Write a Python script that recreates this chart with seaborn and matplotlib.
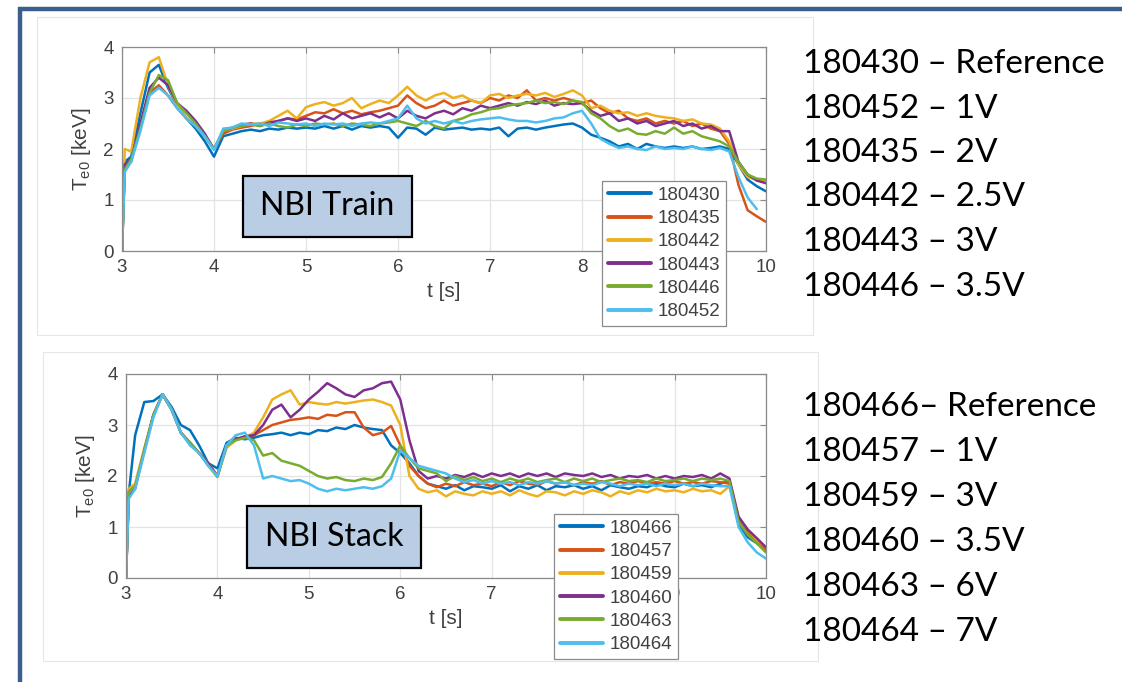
import numpy as np
import pandas as pd
import matplotlib
matplotlib.use("Agg")
import matplotlib.pyplot as plt
import seaborn as sns
from matplotlib.patches import Rectangle
from matplotlib.lines import Line2D

# ---------------- data ----------------
time_s = [3.0, 3.03, 3.1, 3.2, 3.3, 3.4, 3.5, 3.6, 3.7, 3.8, 3.9,
          4.0, 4.1, 4.2, 4.3, 4.4, 4.5, 4.6, 4.7, 4.8, 4.9,
          5.0, 5.1, 5.2, 5.3, 5.4, 5.5, 5.6, 5.7, 5.8, 5.9,
          6.0, 6.1, 6.2, 6.3, 6.4, 6.5, 6.6, 6.7, 6.8, 6.9,
          7.0, 7.1, 7.2, 7.3, 7.4, 7.5, 7.6, 7.7, 7.8, 7.9,
          8.0, 8.1, 8.2, 8.3, 8.4, 8.5, 8.6, 8.7, 8.8, 8.9,
          9.0, 9.1, 9.2, 9.3, 9.4, 9.5, 9.6, 9.7, 9.8, 9.9,
          10.0]

train_shots = ["180430", "180435", "180442", "180443", "180446", "180452"]
train_180430 = [0.0, 1.75, 1.85, 2.7, 3.5, 3.65, 3.2, 2.85, 2.6, 2.4, 2.15,
                1.85, 2.25, 2.3, 2.35, 2.38, 2.35, 2.4, 2.38, 2.42, 2.4,
                2.42, 2.4, 2.45, 2.4, 2.45, 2.38, 2.45, 2.42, 2.45, 2.42,
                2.22, 2.42, 2.4, 2.28, 2.42, 2.38, 2.4, 2.42, 2.38, 2.4,
                2.38, 2.42, 2.25, 2.4, 2.42, 2.38, 2.42, 2.45, 2.48, 2.5,
                2.42, 2.28, 2.22, 2.15, 2.05, 2.1, 2.0, 2.1, 2.05, 2.02,
                2.05, 2.02, 2.05, 2.0, 2.02, 2.05, 2.0, 1.7, 1.4, 1.27,
                1.17]
train_180435 = [0.0, 1.65, 1.75, 2.45, 3.1, 3.25, 3.05, 2.8, 2.6, 2.45, 2.25,
                2.0, 2.3, 2.38, 2.42, 2.45, 2.5, 2.48, 2.55, 2.6, 2.58,
                2.65, 2.72, 2.7, 2.78, 2.7, 2.75, 2.68, 2.72, 2.75, 2.8,
                2.85, 3.05, 2.9, 2.8, 2.85, 2.95, 2.85, 2.9, 2.95, 2.9,
                3.0, 2.95, 3.05, 3.0, 3.15, 2.95, 3.0, 2.95, 3.0, 2.95,
                2.9, 2.95, 2.8, 2.7, 2.75, 2.6, 2.55, 2.6, 2.5, 2.55,
                2.5, 2.55, 2.45, 2.5, 2.4, 2.35, 2.1, 1.3, 0.8, 0.68,
                0.57]
train_180442 = [0.0, 2.0, 1.95, 3.0, 3.7, 3.8, 3.25, 2.85, 2.6, 2.45, 2.25,
                2.0, 2.35, 2.4, 2.45, 2.5, 2.5, 2.55, 2.65, 2.75, 2.6,
                2.82, 2.88, 2.92, 2.85, 2.9, 3.0, 2.8, 2.88, 2.95, 2.9,
                3.05, 3.22, 3.05, 2.95, 3.05, 3.1, 3.0, 3.05, 2.95, 2.9,
                3.05, 3.08, 3.0, 3.05, 3.08, 3.05, 3.1, 3.02, 3.08, 3.15,
                3.05, 2.8, 2.85, 2.75, 2.7, 2.72, 2.65, 2.7, 2.65, 2.62,
                2.6, 2.55, 2.58, 2.5, 2.48, 2.4, 2.15, 1.7, 1.45, 1.4,
                1.38]
train_180443 = [0.0, 1.7, 1.8, 2.5, 3.2, 3.4, 3.25, 2.9, 2.75, 2.55, 2.3,
                2.0, 2.35, 2.42, 2.48, 2.5, 2.45, 2.52, 2.55, 2.6, 2.55,
                2.6, 2.55, 2.65, 2.58, 2.7, 2.6, 2.65, 2.7, 2.62, 2.7,
                2.6, 2.75, 2.65, 2.6, 2.7, 2.75, 2.68, 2.8, 2.75, 2.85,
                2.8, 2.85, 2.9, 2.85, 2.92, 2.88, 2.95, 2.85, 2.9, 2.88,
                2.9, 2.75, 2.65, 2.7, 2.55, 2.6, 2.5, 2.55, 2.45, 2.5,
                2.55, 2.45, 2.5, 2.4, 2.45, 2.35, 2.35, 1.75, 1.5, 1.38,
                1.33]
train_180446 = [0.0, 1.6, 1.8, 2.4, 3.1, 3.45, 3.35, 2.9, 2.7, 2.5, 2.25,
                2.0, 2.35, 2.42, 2.45, 2.48, 2.45, 2.5, 2.45, 2.42, 2.48,
                2.45, 2.5, 2.48, 2.5, 2.45, 2.5, 2.48, 2.45, 2.5, 2.52,
                2.55, 2.5, 2.45, 2.55, 2.45, 2.4, 2.55, 2.6, 2.68, 2.72,
                2.78, 2.8, 2.85, 2.88, 2.9, 2.95, 2.9, 2.92, 2.88, 2.95,
                2.92, 2.7, 2.6, 2.45, 2.35, 2.4, 2.3, 2.28, 2.35, 2.3,
                2.42, 2.3, 2.35, 2.25, 2.2, 2.15, 2.05, 1.75, 1.5, 1.42,
                1.4]
train_180452 = [0.0, 1.55, 1.75, 2.35, 3.05, 3.2, 3.05, 2.8, 2.6, 2.45, 2.25,
                1.98, 2.4, 2.42, 2.5, 2.48, 2.5, 2.45, 2.52, 2.5, 2.48,
                2.5, 2.45, 2.5, 2.48, 2.5, 2.45, 2.5, 2.52, 2.5, 2.55,
                2.6, 2.85, 2.6, 2.5, 2.55, 2.5, 2.55, 2.5, 2.55, 2.58,
                2.6, 2.62, 2.58, 2.55, 2.55, 2.52, 2.55, 2.6, 2.62, 2.7,
                2.75, 2.5, 2.2, 2.1, 2.02, 2.05, 2.0, 1.98, 2.05, 2.0,
                2.02, 2.0, 2.05, 2.0, 1.98, 2.02, 1.95, 1.45, 1.05, 0.82,
                np.nan]

stack_shots = ["180466", "180457", "180459", "180460", "180463", "180464"]
stack_180466 = [0.0, 1.65, 2.8, 3.45, 3.47, 3.6, 3.35, 3.0, 2.9, 2.6, 2.25,
                2.15, 2.65, 2.75, 2.72, 2.75, 2.8, 2.82, 2.85, 2.8, 2.85,
                2.82, 2.9, 2.88, 2.95, 2.92, 3.0, 2.95, 2.92, 2.9, 2.6,
                2.45, 2.25, 2.0, 1.85, 1.8, 1.75, 1.82, 1.72, 1.8, 1.78,
                1.75, 1.82, 1.7, 1.8, 1.75, 1.82, 1.72, 1.8, 1.78, 1.82,
                1.75, 1.8, 1.72, 1.82, 1.78, 1.75, 1.8, 1.78, 1.85, 1.8,
                1.78, 1.85, 1.8, 1.82, 1.78, 1.85, 1.9, 1.05, 0.8, 0.68,
                0.55]
stack_180457 = [0.0, 1.7, 1.8, 2.5, 3.2, 3.6, 3.3, 2.85, 2.65, 2.45, 2.25,
                2.0, 2.6, 2.72, 2.75, 2.8, 2.9, 3.0, 3.05, 3.1, 3.12,
                3.15, 3.12, 3.2, 3.18, 3.25, 3.25, 2.95, 2.8, 2.85, 2.98,
                2.6, 2.2, 2.0, 1.85, 1.78, 1.85, 1.8, 1.88, 1.82, 1.85,
                1.8, 1.88, 1.82, 1.9, 1.85, 1.82, 1.9, 1.85, 1.88, 1.82,
                1.88, 1.85, 1.9, 1.82, 1.88, 1.85, 1.9, 1.85, 1.88, 1.85,
                1.9, 1.85, 1.88, 1.85, 1.9, 1.88, 1.85, 1.15, 0.9, 0.72,
                0.55]
stack_180459 = [0.0, 1.75, 1.85, 2.55, 3.2, 3.6, 3.3, 2.85, 2.65, 2.45, 2.25,
                2.0, 2.55, 2.7, 2.75, 2.85, 3.15, 3.5, 3.6, 3.68, 3.4,
                3.45, 3.42, 3.4, 3.45, 3.42, 3.45, 3.48, 3.5, 3.45, 3.38,
                3.0, 2.0, 1.75, 1.68, 1.72, 1.6, 1.7, 1.65, 1.62, 1.7,
                1.65, 1.7, 1.62, 1.72, 1.65, 1.6, 1.7, 1.68, 1.62, 1.7,
                1.65, 1.72, 1.68, 1.6, 1.7, 1.65, 1.72, 1.68, 1.75, 1.7,
                1.72, 1.68, 1.75, 1.7, 1.72, 1.65, 1.8, 1.2, 0.95, 0.75,
                0.6]
stack_180460 = [0.0, 1.6, 1.75, 2.5, 3.2, 3.6, 3.3, 2.85, 2.65, 2.45, 2.25,
                2.0, 2.6, 2.72, 2.78, 2.8, 3.0, 3.3, 3.4, 3.15, 3.3,
                3.5, 3.65, 3.82, 3.72, 3.6, 3.55, 3.68, 3.72, 3.82, 3.85,
                3.5, 2.7, 2.1, 1.95, 2.0, 1.95, 2.02, 1.98, 2.05, 1.98,
                2.05, 2.0, 2.05, 1.98, 2.05, 2.0, 2.05, 1.98, 2.05, 2.02,
                2.0, 2.05, 1.98, 2.02, 1.95, 2.0, 1.98, 2.02, 1.95, 2.0,
                1.95, 2.0, 1.98, 2.02, 1.95, 2.05, 1.95, 1.2, 0.95, 0.78,
                0.6]
stack_180463 = [0.0, 1.7, 1.8, 2.5, 3.2, 3.6, 3.3, 2.85, 2.65, 2.45, 2.2,
                1.98, 2.6, 2.7, 2.75, 2.7, 2.4, 2.45, 2.3, 2.25, 2.2,
                2.1, 2.0, 1.95, 1.98, 1.92, 1.9, 1.95, 1.92, 1.98, 2.25,
                2.6, 2.35, 2.15, 2.1, 2.05, 1.9, 2.0, 1.92, 1.98, 1.9,
                1.95, 1.88, 1.95, 1.9, 1.95, 1.88, 1.92, 1.95, 1.88, 1.95,
                1.9, 1.95, 1.88, 1.92, 1.95, 1.9, 1.92, 1.88, 1.95, 1.9,
                1.92, 1.95, 1.9, 1.95, 1.92, 1.95, 1.9, 1.1, 0.85, 0.68,
                0.5]
stack_180464 = [0.0, 1.55, 1.75, 2.45, 3.15, 3.6, 3.3, 2.85, 2.6, 2.45, 2.2,
                2.0, 2.6, 2.8, 2.85, 2.6, 1.95, 2.0, 1.95, 1.9, 1.92,
                1.85, 1.75, 1.7, 1.75, 1.72, 1.75, 1.78, 1.75, 1.8, 1.95,
                2.5, 2.35, 2.2, 2.15, 2.1, 2.05, 1.95, 1.88, 1.92, 1.85,
                1.9, 1.85, 1.88, 1.82, 1.88, 1.85, 1.9, 1.85, 1.88, 1.82,
                1.85, 1.82, 1.88, 1.85, 1.8, 1.85, 1.82, 1.85, 1.8, 1.85,
                1.82, 1.85, 1.8, 1.85, 1.82, 1.8, 1.8, 1.0, 0.7, 0.5,
                0.38]

x_ticks = [3, 4, 5, 6, 7, 8, 9, 10]
y_ticks = [0, 1, 2, 3, 4]

train_notes = ["180430 \u2013 Reference", "180452 \u2013 1V", "180435 \u2013 2V",
               "180442 \u2013 2.5V", "180443 \u2013 3V", "180446 \u2013 3.5V"]
stack_notes = ["180466\u2013 Reference", "180457 \u2013 1V", "180459 \u2013 3V",
               "180460 \u2013 3.5V", "180463 \u2013 6V", "180464 \u2013 7V"]

line_colors = ["#0072BD", "#D95319", "#EDB120", "#7E2F8E", "#77AC30", "#4DBEEE"]

# ---------------- style ----------------
sns.set_theme(style="white")
plt.rcParams["font.family"] = ["Liberation Sans", "DejaVu Sans"]
plt.rcParams["mathtext.fontset"] = "custom"
plt.rcParams["mathtext.rm"] = "Liberation Sans"
plt.rcParams["mathtext.it"] = "Liberation Sans:italic"

W, H = 1122, 682
fig = plt.figure(figsize=(W / 100, H / 100), dpi=100)
fig.patch.set_facecolor("white")


def fx(px):
    return px / W


def fy(py):
    return 1 - py / H


# slide frame
fig.add_artist(Line2D([fx(18), 1.0], [fy(8.5), fy(8.5)], transform=fig.transFigure,
                      color="#3A5F8F", lw=3.2, solid_capstyle="butt"))
fig.add_artist(Line2D([fx(19.5), fx(19.5)], [0.0, fy(7)], transform=fig.transFigure,
                      color="#3A5F8F", lw=3.2, solid_capstyle="butt"))

# panel (pasted figure) borders
for (x0, y0, x1, y1) in [(37, 17, 813, 335), (43, 352, 818, 661)]:
    fig.add_artist(Rectangle((fx(x0), fy(y1)), fx(x1 - x0), (y1 - y0) / H,
                             transform=fig.transFigure, facecolor="white",
                             edgecolor="#e6e6e6", lw=0.8, zorder=0))


def make_panel(rect_px, shots, series, legend_xy, box_px, box_text):
    x0, y0, x1, y1 = rect_px
    ax = fig.add_axes([fx(x0), fy(y1), fx(x1 - x0), (y1 - y0) / H])
    frames = []
    for shot, vals in zip(shots, series):
        frames.append(pd.DataFrame({"t": time_s, "Te": vals, "shot": shot}))
    df = pd.concat(frames, ignore_index=True)
    sns.lineplot(data=df, x="t", y="Te", hue="shot", hue_order=shots,
                 palette=line_colors, estimator=None, linewidth=1.8, ax=ax,
                 legend=True)
    ax.set_xlim(3, 10)
    ax.set_ylim(0, 4)
    ax.set_xticks(x_ticks)
    ax.set_yticks(y_ticks)
    ax.grid(True, color="#e3e3e3", linewidth=0.9)
    ax.set_axisbelow(True)
    for sp in ax.spines.values():
        sp.set_color("#8a8a8a")
        sp.set_linewidth(0.9)
    ax.tick_params(direction="in", length=4, width=0.8, top=True, right=True,
                   color="#8a8a8a", labelcolor="#404040", labelsize=13.5, pad=6)
    ax.set_xlabel("t [s]", fontsize=15, color="#404040", labelpad=4)
    ax.set_ylabel("T$_{\\mathrm{e0}}$ [keV]", fontsize=15, color="#404040", labelpad=7)

    handles, labels = ax.get_legend_handles_labels()
    leg = ax.legend(handles, labels, loc="upper left",
                    bbox_to_anchor=(fx(legend_xy[0]), fy(legend_xy[1])),
                    bbox_transform=fig.transFigure, borderaxespad=0,
                    fontsize=13.5, frameon=True, fancybox=False, framealpha=1,
                    edgecolor="#8a8a8a", handlelength=2.3, handletextpad=0.35,
                    borderpad=0.3, labelspacing=0.33)
    leg.get_frame().set_linewidth(0.9)
    leg.set_zorder(10)
    for t in leg.get_texts():
        t.set_color("#404040")
    for ln in leg.get_lines():
        ln.set_linewidth(2.8)

    bx0, by0, bx1, by1 = box_px
    fig.add_artist(Rectangle((fx(bx0), fy(by1)), fx(bx1 - bx0), (by1 - by0) / H,
                             transform=fig.transFigure, facecolor="#B9CDE5",
                             edgecolor="black", lw=1.6, zorder=5))
    fig.text(fx((bx0 + bx1) / 2), fy((by0 + by1) / 2), box_text, ha="center",
             va="center", fontsize=23, family=["Lato", "DejaVu Sans"],
             color="black", zorder=6)
    return ax


make_panel((122, 47, 766, 251), train_shots,
           [train_180430, train_180435, train_180442, train_180443, train_180446, train_180452],
           (602, 181), (243, 176, 412, 237), "NBI Train")
make_panel((126, 374, 766, 578), stack_shots,
           [stack_180466, stack_180457, stack_180459, stack_180460, stack_180463, stack_180464],
           (554, 514), (247, 506, 421, 568), "NBI Stack")

for i, txt in enumerate(train_notes):
    fig.text(fx(803), fy(64 + 44.5 * i), txt, ha="left", va="center", fontsize=24,
             family=["Lato", "DejaVu Sans"], color="black")
for i, txt in enumerate(stack_notes):
    fig.text(fx(803), fy(407 + 45 * i), txt, ha="left", va="center", fontsize=24,
             family=["Lato", "DejaVu Sans"], color="black")

fig.savefig("out.png", dpi=100, facecolor="white")
